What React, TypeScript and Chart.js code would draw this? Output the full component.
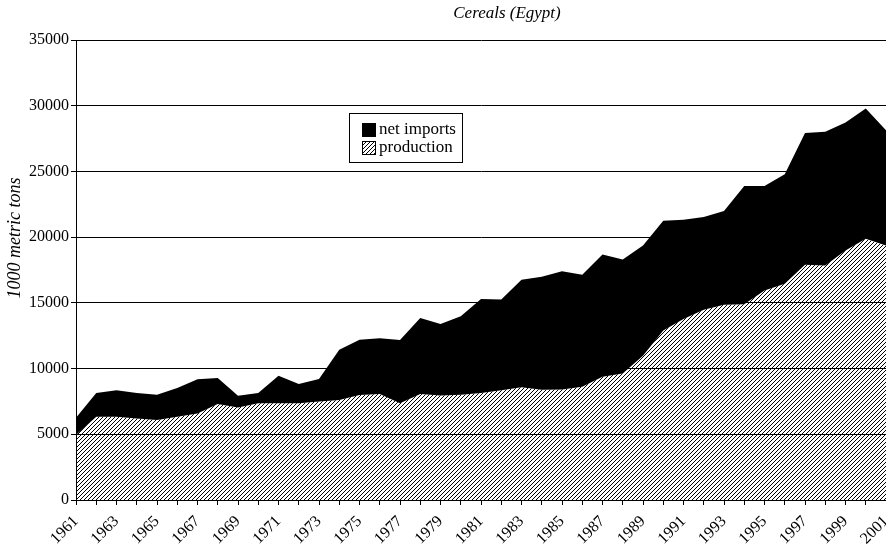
import { useEffect, useRef } from 'react';
import { Chart, registerables } from 'chart.js';
Chart.register(...registerables);

const years = [
  '1961', '1962', '1963', '1964', '1965', '1966', '1967', '1968', '1969', '1970',
  '1971', '1972', '1973', '1974', '1975', '1976', '1977', '1978', '1979', '1980',
  '1981', '1982', '1983', '1984', '1985', '1986', '1987', '1988', '1989', '1990',
  '1991', '1992', '1993', '1994', '1995', '1996', '1997', '1998', '1999', '2000',
  '2001',
];

const production = [
  4950, 6330, 6330, 6200, 6080, 6330, 6580, 7300, 7040, 7370,
  7370, 7370, 7500, 7600, 7980, 8060, 7370, 8060, 7960, 8000,
  8140, 8360, 8570, 8390, 8410, 8620, 9380, 9620, 10980, 12890,
  13780, 14470, 14850, 14900, 15940, 16450, 17900, 17840, 18990, 19880,
  19370,
];

const netImports = [
  1300, 1810, 2030, 1940, 1930, 2190, 2600, 1980, 890, 770,
  2090, 1450, 1700, 3840, 4220, 4240, 4810, 5790, 5440, 5980,
  7160, 6890, 8180, 8590, 9000, 8510, 9290, 8680, 8390, 8360,
  7550, 7060, 7140, 8990, 7950, 8330, 10030, 10170, 9730, 9910,
  8770,
];

const yMin = 0;
const yMax = 35000;
const yStep = 5000;
const titleText = 'Cereals (Egypt)';
const yTitleText = '1000 metric tons';
const seriesNames = ['production', 'net imports'];

const FONT = '"Liberation Serif", "Times New Roman", serif';

function makeHatch(ctx: CanvasRenderingContext2D) {
  const c = document.createElement('canvas');
  c.width = 4;
  c.height = 4;
  const g = c.getContext('2d')!;
  g.strokeStyle = '#000';
  g.lineWidth = 1.0;
  g.beginPath();
  g.moveTo(-1, 5);
  g.lineTo(5, -1);
  g.moveTo(-1, 1);
  g.lineTo(1, -1);
  g.moveTo(3, 5);
  g.lineTo(5, 3);
  g.stroke();
  return ctx.createPattern(c, 'repeat')!;
}

export default function App() {
  const ref = useRef<HTMLCanvasElement | null>(null);

  useEffect(() => {
    const canvas = ref.current!;
    const ctx = canvas.getContext('2d')!;
    const hatch = makeHatch(ctx);

    const overlay = {
      id: 'overlay',
      afterDraw(chart: any) {
        const c = chart.ctx as CanvasRenderingContext2D;
        c.save();
        c.fillStyle = '#000';
        c.textAlign = 'center';
        c.textBaseline = 'middle';
        c.font = `italic 17px ${FONT}`;
        c.fillText(titleText, 507, 14);
        c.save();
        c.translate(15, 238);
        c.rotate(-Math.PI / 2);
        c.font = `italic 18px ${FONT}`;
        c.fillText(yTitleText, 0, 0);
        c.restore();

        // legend box
        const bx = 349.5, by = 113.5, bw = 113, bh = 49;
        c.fillStyle = '#fff';
        c.fillRect(bx, by, bw, bh);
        c.strokeStyle = '#000';
        c.lineWidth = 1;
        c.strokeRect(bx, by, bw, bh);
        const items = [
          { name: seriesNames[1], fill: '#000' as any },
          { name: seriesNames[0], fill: hatch as any },
        ];
        c.font = `17px ${FONT}`;
        c.textAlign = 'left';
        items.forEach((it, i) => {
          const sy = 123 + i * 18;
          c.fillStyle = '#fff';
          c.fillRect(362, sy, 14, 14);
          c.fillStyle = it.fill;
          c.fillRect(362, sy, 14, 14);
          c.strokeStyle = '#000';
          c.strokeRect(362.5, sy + 0.5, 13, 13);
          c.fillStyle = '#000';
          c.fillText(it.name, 379, sy + 7);
        });
        c.restore();
      },
    };

    const chart = new Chart(canvas, {
      type: 'line',
      data: {
        labels: years,
        datasets: [
          {
            label: seriesNames[0],
            data: production,
            backgroundColor: hatch,
            borderWidth: 0,
            pointRadius: 0,
            fill: 'origin',
            tension: 0,
          },
          {
            label: seriesNames[1],
            data: netImports,
            backgroundColor: '#000',
            borderWidth: 0,
            pointRadius: 0,
            fill: '-1',
            tension: 0,
          },
        ],
      },
      options: {
        animation: false,
        responsive: true,
        maintainAspectRatio: false,
        layout: { padding: { top: 40, left: 0, right: 0, bottom: 0 } },
        font: { family: FONT },
        plugins: {
          legend: { display: false },
          tooltip: { enabled: false },
          title: { display: false },
        },
        scales: {
          x: {
            grid: { drawOnChartArea: false, drawTicks: true, tickLength: 5, color: '#000' },
            border: { color: '#000' },
            ticks: {
              autoSkip: false,
              maxRotation: 45,
              minRotation: 45,
              padding: 7,
              color: '#000',
              font: { family: FONT, size: 16 },
              callback: (_v: any, i: number) => (i % 2 === 0 ? years[i] : ''),
            },
            afterFit: (s: any) => {
              s.height = 45;
              s.paddingLeft = 0;
              s.paddingRight = 0;
            },
          },
          y: {
            stacked: true,
            min: yMin,
            max: yMax,
            ticks: {
              stepSize: yStep,
              color: '#000',
              padding: 2,
              font: { family: FONT, size: 16 },
              callback: (v: any) => String(v),
            },
            grid: { color: '#000', tickLength: 5 },
            border: { color: '#000' },
            afterFit: (s: any) => {
              s.width = 76;
            },
          },
        },
      } as any,
      plugins: [overlay],
    });
    return () => chart.destroy();
  }, []);

  return (
    <div style={{ position: 'fixed', left: 0, top: 0, width: 886, height: 545, background: '#fff' }}>
      <canvas ref={ref} />
    </div>
  );
}
